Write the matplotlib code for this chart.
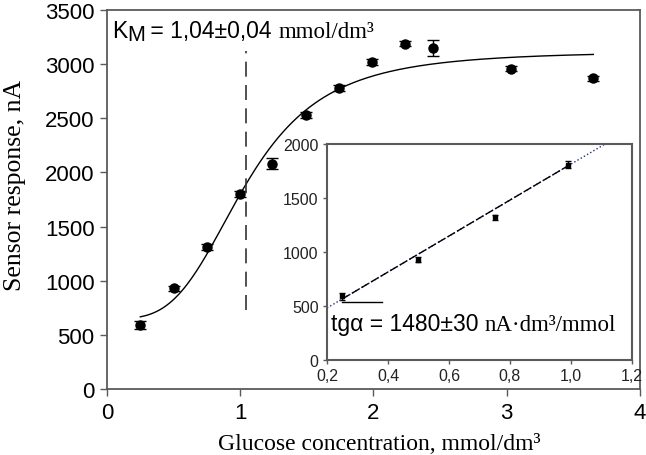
import matplotlib
matplotlib.use("Agg")
import matplotlib.pyplot as plt
import numpy as np

# main data: glucose calibration
conc = [0.25, 0.5, 0.75, 1.0, 1.24, 1.49, 1.74, 1.99, 2.24, 2.45, 3.03, 3.65]
response = [590, 930, 1310, 1800, 2080, 2530, 2780, 3020, 3190, 3150, 2960, 2870]
response_err = [35, 25, 25, 25, 50, 30, 25, 25, 20, 70, 25, 25]

# Hill fit parameters
km = 1.04
fit_base = 650
fit_amp = 2470
fit_n = 3.5

# inset: linear range
lin_conc = [0.25, 0.5, 0.75, 0.99]
lin_resp = [590, 930, 1320, 1810]
lin_err = [35, 25, 20, 35]
lin_slope = 1665
lin_icpt = 149

main_xticks = [0, 1, 2, 3, 4]
main_yticks = [0, 500, 1000, 1500, 2000, 2500, 3000, 3500]
inset_xticks = [0.2, 0.4, 0.6, 0.8, 1.0, 1.2]
inset_yticks = [0, 500, 1000, 1500, 2000]

SANS = "Liberation Sans"
SERIF = "Liberation Serif"
FRAME = "#5a5a5a"


def comma(v):
    return f"{v:.1f}".replace(".", ",")


def style_frame(a, lw):
    for s in a.spines.values():
        s.set_color(FRAME)
        s.set_linewidth(lw)


fig = plt.figure(figsize=(6.46, 4.56), dpi=100)
ax = fig.add_axes([0.1656, 0.1447, 0.8251, 0.8311])

ax.errorbar(conc, response, yerr=response_err, fmt="o", color="black",
            ms=6.5, capsize=4, elinewidth=1, capthick=1)
xs = np.linspace(conc[0], conc[-1], 300)
ax.plot(xs, fit_base + fit_amp * xs ** fit_n / (km ** fit_n + xs ** fit_n),
        color="black", lw=1)
ax.plot([km, km], [730, 3120], color="#333333", lw=1.2, dashes=(9, 5))

ax.set_xlim(0, 4)
ax.set_ylim(0, 3500)
ax.set_xticks(main_xticks)
ax.set_yticks(main_yticks)
ax.tick_params(direction="out", length=5, width=1, color=FRAME,
               labelsize=16, pad=4)
for lab in ax.get_xticklabels() + ax.get_yticklabels():
    lab.set_family(SANS)
style_frame(ax, 1.3)

ax.set_xlabel("Glucose concentration, mmol/dm³", family=SERIF, fontsize=17)
ax.set_ylabel("Sensor response, nA", family=SERIF, fontsize=18.5)
ax.xaxis.set_label_coords(0.51, -0.115)
ax.yaxis.set_label_coords(-0.152, 0.54)

# K_M annotation
t1 = ax.text(0.01, 0.929, "K", transform=ax.transAxes, family=SANS,
             fontsize=16.5, va="baseline")
t2 = ax.annotate("M", xy=(1, 0), xycoords=t1, xytext=(0, -2.5),
                 textcoords="offset points", family=SANS, fontsize=15.5,
                 va="bottom")
t3 = ax.annotate(" = 1,04±0,04 ", xy=(1, 0), xycoords=t1, xytext=(12, 0),
                 textcoords="offset points", family=SANS, fontsize=16.5,
                 va="bottom")
ax.annotate("mmol/dm³", xy=(1, 0), xycoords=t3, family=SERIF, fontsize=16.5,
            va="bottom")

# inset
ins = fig.add_axes([0.5062, 0.2083, 0.4721, 0.4737])
ins.errorbar(lin_conc, lin_resp, yerr=lin_err, fmt="s", color="black",
             ms=3.5, capsize=2.5, elinewidth=1, capthick=1)
lx = np.array([0.2, 1.2])
ins.plot(lx, lin_slope * lx + lin_icpt, color="#1f2a80", lw=1, ls=":")
dx = np.array([lin_conc[0], lin_conc[-1]])
ins.plot(dx, lin_slope * dx + lin_icpt, color="black", lw=1, dashes=(6, 2))
ins.plot([lin_conc[0], 0.38], [540, 540], color="black", lw=1)

ins.set_xlim(0.2, 1.2)
ins.set_ylim(0, 2000)
ins.set_xticks(inset_xticks)
ins.set_xticklabels([comma(v) for v in inset_xticks])
ins.set_yticks(inset_yticks)
ins.tick_params(direction="out", length=3, width=1, color=FRAME,
                labelsize=11.5, pad=3, labelcolor="#222222")
for lab in ins.get_xticklabels() + ins.get_yticklabels():
    lab.set_family(SANS)
style_frame(ins, 1.5)

g1 = ins.text(0.013, 0.14, "tgα = 1480±30 ", transform=ins.transAxes,
              family=SANS, fontsize=16.5, va="baseline")
ins.annotate("nA·dm³/mmol", xy=(1, 0), xycoords=g1, family=SERIF,
             fontsize=16.5, va="bottom")

fig.savefig("out.png", dpi=100)
